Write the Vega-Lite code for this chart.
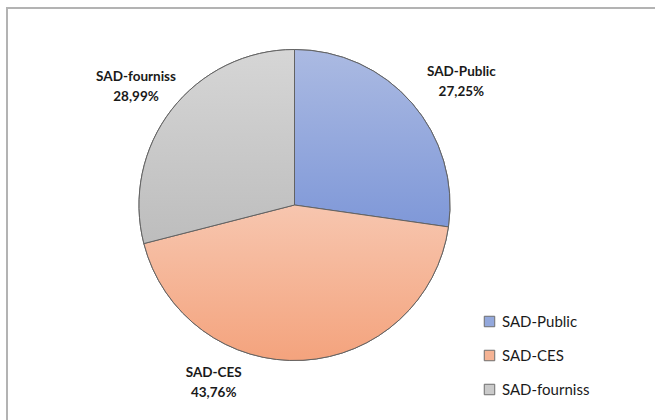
{
  "$schema": "https://vega.github.io/schema/vega-lite/v6.json",
  "width": 650,
  "height": 413,
  "autosize": {"type": "none"},
  "padding": {"left": 7, "top": 8, "right": -2, "bottom": -1},
  "background": "white",
  "view": {"stroke": "#b3b3b3", "strokeWidth": 2, "fill": "white"},
  "config": {
    "view": {"stroke": "#b3b3b3", "strokeWidth": 2},
    "font": "Lato"
  },
  "data": {
    "values": [
      {"cat": "SAD-Public", "v": 0.2725, "pct": "27,25%", "idx": 1},
      {"cat": "SAD-CES", "v": 0.4376, "pct": "43,76%", "idx": 2},
      {"cat": "SAD-fourniss", "v": 0.2899, "pct": "28,99%", "idx": 3}
    ]
  },
  "layer": [
    {
      "mark": {"type": "arc", "x": 287.5, "y": 197, "outerRadius": 155.5, "stroke": "#636363", "strokeWidth": 1},
      "encoding": {
        "theta": {"field": "v", "type": "quantitative", "stack": true, "scale": {"domain": [0, 1]}},
        "order": {"field": "idx", "type": "quantitative"},
        "color": {
          "field": "cat",
          "type": "nominal",
          "sort": ["SAD-Public", "SAD-CES", "SAD-fourniss"],
          "scale": {
            "domain": ["SAD-Public", "SAD-CES", "SAD-fourniss"],
            "range": ["#93a8dc", "#f5b394", "#cacaca"]
          },
          "legend": {
            "title": null,
            "orient": "none",
            "legendX": 475,
            "legendY": 306,
            "padding": 0,
            "symbolType": "square",
            "symbolSize": 110,
            "symbolStrokeColor": "#6e6e6e",
            "symbolStrokeWidth": 1,
            "labelFont": "Lato",
            "labelFontSize": 15,
            "labelColor": "#1a1a1a",
            "labelOffset": 5,
            "rowPadding": 18,
            "labelLimit": 200
          }
        }
      }
    },
    {
      "transform": [
        {"stack": "v", "groupby": [], "sort": [{"field": "idx"}], "as": ["s0", "s1"]},
        {"filter": "datum.cat === 'SAD-Public'"}
      ],
      "mark": {
        "type": "arc", "x": 287.5, "y": 197, "outerRadius": 155.5, "stroke": "#636363", "strokeWidth": 1,
        "color": {"gradient": "linear", "x1": 0, "y1": 0, "x2": 0, "y2": 1, "stops": [{"offset": 0, "color": "#abbae2"}, {"offset": 1, "color": "#7f98d8"}]}
      },
      "encoding": {
        "theta": {"field": "s0", "type": "quantitative", "scale": {"domain": [0, 1]}},
        "theta2": {"field": "s1"}
      }
    },
    {
      "transform": [
        {"stack": "v", "groupby": [], "sort": [{"field": "idx"}], "as": ["s0", "s1"]},
        {"filter": "datum.cat === 'SAD-CES'"}
      ],
      "mark": {
        "type": "arc", "x": 287.5, "y": 197, "outerRadius": 155.5, "stroke": "#636363", "strokeWidth": 1,
        "color": {"gradient": "linear", "x1": 0, "y1": 0, "x2": 0, "y2": 1, "stops": [{"offset": 0, "color": "#f7c6af"}, {"offset": 1, "color": "#f4a37d"}]}
      },
      "encoding": {
        "theta": {"field": "s0", "type": "quantitative", "scale": {"domain": [0, 1]}},
        "theta2": {"field": "s1"}
      }
    },
    {
      "transform": [
        {"stack": "v", "groupby": [], "sort": [{"field": "idx"}], "as": ["s0", "s1"]},
        {"filter": "datum.cat === 'SAD-fourniss'"}
      ],
      "mark": {
        "type": "arc", "x": 287.5, "y": 197, "outerRadius": 155.5, "stroke": "#636363", "strokeWidth": 1,
        "color": {"gradient": "linear", "x1": 0, "y1": 0, "x2": 0, "y2": 1, "stops": [{"offset": 0, "color": "#d6d6d6"}, {"offset": 1, "color": "#bdbdbd"}]}
      },
      "encoding": {
        "theta": {"field": "s0", "type": "quantitative", "scale": {"domain": [0, 1]}},
        "theta2": {"field": "s1"}
      }
    },
    {
      "transform": [{"calculate": "[datum.cat, datum.pct]", "as": "label"}],
      "mark": {
        "type": "text",
        "x": 287.5,
        "y": 197,
        "radius": 205,
        "font": "Lato",
        "fontSize": 13.5,
        "fontWeight": "bold",
        "color": "#1a1a1a",
        "align": "center",
        "baseline": "middle",
        "lineHeight": 20,
        "dx": {"expr": "datum.cat === 'SAD-CES' ? -92 : (datum.cat === 'SAD-Public' ? 12 : 3.5)"},
        "dy": {"expr": "datum.cat === 'SAD-CES' ? -37 : (datum.cat === 'SAD-Public' ? 1 : -2.4)"}
      },
      "encoding": {
        "theta": {"field": "v", "type": "quantitative", "stack": true, "scale": {"domain": [0, 1]}},
        "order": {"field": "idx", "type": "quantitative"},
        "text": {"field": "label"}
      }
    }
  ]
}
